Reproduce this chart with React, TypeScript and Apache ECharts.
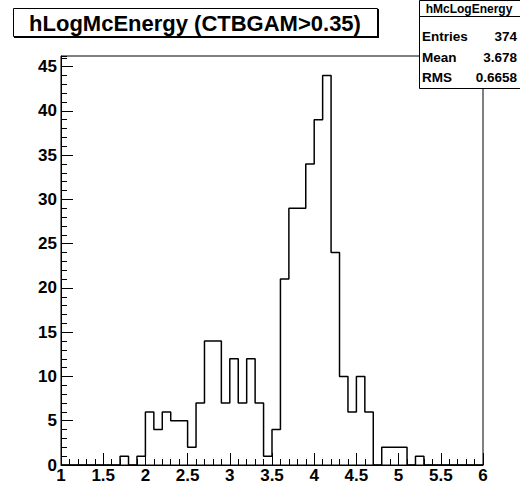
import React, { useEffect, useRef } from "react";
import * as echarts from "echarts";

// Histogram: 50 bins of width 0.1 from 1.0 to 6.0
const binLow = 1.0;
const binWidth = 0.1;
const counts = [
  0, 0, 0, 0, 0, 0, 0, 1, 0, 1,
  6, 4, 6, 5, 5, 2, 7, 14, 14, 7,
  12, 7, 12, 7, 1, 4, 21, 29, 29, 34,
  39, 44, 24, 10, 6, 10, 6, 0, 2, 2,
  2, 0, 1, 0, 0, 0, 0, 0, 0, 0,
];
const xTickLabels = ["1", "1.5", "2", "2.5", "3", "3.5", "4", "4.5", "5", "5.5", "6"];
const titleText = "hLogMcEnergy (CTBGAM>0.35)";
const statsName = "hMcLogEnergy";
const statsRows: [string, string][] = [
  ["Entries", "374"],
  ["Mean", "3.678"],
  ["RMS", "0.6658"],
];

const FONT = '"Liberation Sans", Arial, Helvetica, sans-serif';

export default function App() {
  const ref = useRef<HTMLDivElement>(null);
  useEffect(() => {
    if (!ref.current) return;
    const chart = echarts.init(ref.current, null, { renderer: "svg" });
    const pts: [number, number][] = counts.map((c, i) => [
      +(binLow + i * binWidth).toFixed(2),
      c,
    ]);
    pts.push([+(binLow + counts.length * binWidth).toFixed(2), 0]);
    const yMax = Math.max(...counts) * 1.05;

    const statsTexts: any[] = [];
    const rowY = [36, 57, 77];
    statsRows.forEach(([k, v], i) => {
      statsTexts.push({
        type: "text",
        style: {
          text: k, x: 422, y: rowY[i], fill: "#000",
          font: `bold 13.5px ${FONT}`, textVerticalAlign: "middle", textAlign: "left",
        },
      });
      statsTexts.push({
        type: "text",
        style: {
          text: v, x: 517, y: rowY[i], fill: "#000",
          font: `bold 13.5px ${FONT}`, textVerticalAlign: "middle", textAlign: "right",
        },
      });
    });

    chart.setOption({
      animation: false,
      backgroundColor: "#fff",
      grid: {
        left: 61, right: 37, top: 56, bottom: 19,
        show: true, borderColor: "#000", borderWidth: 1, backgroundColor: "transparent",
      },
      xAxis: {
        type: "value",
        min: 1, max: 6, interval: 0.5,
        axisLine: { show: true, onZero: false, lineStyle: { color: "#000", width: 1 } },
        axisTick: { show: true, inside: true, length: 12, lineStyle: { color: "#000", width: 1 } },
        minorTick: { show: true, splitNumber: 5, length: 6, lineStyle: { color: "#000", width: 1 } },
        splitLine: { show: false },
        axisLabel: {
          color: "#000", fontFamily: FONT, fontWeight: "bold", fontSize: 17, margin: 2,
          showMinLabel: true, showMaxLabel: true,
          formatter: (v: number) => {
            const idx = Math.round((v - 1) / 0.5);
            return xTickLabels[idx] ?? "";
          },
        },
      },
      yAxis: [
        {
          type: "value",
          min: 0, max: yMax, interval: 5,
          axisLine: { show: true, onZero: false, lineStyle: { color: "#000", width: 1 } },
          axisTick: { show: true, inside: true, length: 12, lineStyle: { color: "#000", width: 1 } },
          splitLine: { show: false },
          axisLabel: {
            color: "#000", fontFamily: FONT, fontWeight: "bold", fontSize: 17, margin: 4,
            showMaxLabel: false,
            formatter: (v: number) => (Math.abs(v % 5) < 1e-6 ? String(v) : ""),
          },
        },
        {
          type: "value",
          min: 0, max: yMax, interval: 1, position: "left",
          axisLine: { show: false },
          axisTick: { show: true, inside: true, length: 6, lineStyle: { color: "#000", width: 1 } },
          splitLine: { show: false },
          axisLabel: { show: false },
        },
      ],
      series: [
        {
          type: "line",
          step: "end",
          data: pts,
          showSymbol: false,
          symbol: "none",
          lineStyle: { color: "#000", width: 1.5 },
          xAxisIndex: 0,
          yAxisIndex: 0,
          z: 3,
        },
      ],
      graphic: [
        {
          type: "group", z: 100,
          children: [
            { type: "rect", shape: { x: 14, y: 9, width: 365, height: 29 }, style: { fill: "#000" } },
            { type: "rect", shape: { x: 13.5, y: 8.5, width: 364, height: 28 }, style: { fill: "#fff", stroke: "#000", lineWidth: 1 } },
            {
              type: "text",
              style: {
                text: titleText, x: 195, y: 23, fill: "#000",
                font: `bold 22px ${FONT}`, textAlign: "center", textVerticalAlign: "middle",
              },
            },
            { type: "rect", shape: { x: 419.5, y: 0.5, width: 101, height: 88 }, style: { fill: "#fff", stroke: "#000", lineWidth: 1 } },
            { type: "line", shape: { x1: 419.5, y1: 16.5, x2: 520, y2: 16.5 }, style: { stroke: "#000", lineWidth: 1 } },
            {
              type: "text",
              style: {
                text: statsName, x: 469, y: 8.5, fill: "#000",
                font: `bold 12px ${FONT}`, textAlign: "center", textVerticalAlign: "middle",
              },
            },
            ...statsTexts,
          ],
        },
      ],
    });
    return () => chart.dispose();
  }, []);
  return (
    <div
      ref={ref}
      style={{ position: "fixed", left: 0, top: 0, width: 520, height: 484 }}
    />
  );
}
